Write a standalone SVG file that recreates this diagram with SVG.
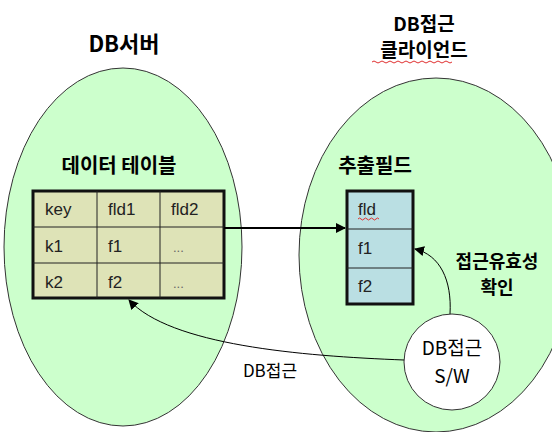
<svg xmlns="http://www.w3.org/2000/svg" width="552" height="432" viewBox="0 0 552 432">
<defs>
<style>
.t{font-family:"Noto Sans CJK KR","Liberation Sans",sans-serif;fill:#000}
.b{font-weight:bold}
.cell{font-family:"Liberation Sans","Noto Sans CJK KR",sans-serif;font-size:17px;fill:#222}
.dots{font-family:"Liberation Sans",sans-serif;font-size:13px;fill:#666}
.ell{fill:#ccffcc;stroke:#333;stroke-width:1}
.grid{stroke:#222;stroke-width:1;fill:none}
.wave{fill:none;stroke:#e03030;stroke-width:1}
</style>
<marker id="ah" viewBox="0 0 10 10" refX="9" refY="5" markerWidth="10" markerHeight="10" markerUnits="userSpaceOnUse" orient="auto">
<path d="M0,0 L10,5 L0,10 z" fill="#000"/>
</marker>
</defs>
<rect width="552" height="432" fill="#fff"/>
<g id="server">
<ellipse class="ell" cx="123" cy="247" rx="119" ry="179"/>
<text class="t b" x="124" y="52" font-size="22" text-anchor="middle">DB서버</text>
<text class="t b" x="119" y="173" font-size="20" text-anchor="middle">데이터 테이블</text>
</g>
<g id="client">
<ellipse class="ell" cx="436" cy="255" rx="137" ry="177"/>
<text class="t b" x="424" y="31" font-size="19" text-anchor="middle">DB접근</text>
<text class="t b" x="424" y="57" font-size="19" text-anchor="middle">클라이언드</text>
<path class="wave" d="M372,62 q2,-2 4,0 t4,0 t4,0 t4,0 t4,0 t4,0 t4,0 t4,0 t4,0 t4,0 t4,0 t4,0 t4,0 t4,0 t4,0 t4,0 t4,0 t4,0 t4,0 t4,0"/>
<text class="t b" x="375" y="173" font-size="20" text-anchor="middle">추출필드</text>
<text class="t b" x="497" y="268" font-size="18" text-anchor="middle">접근유효성</text>
<text class="t b" x="497" y="294" font-size="18" text-anchor="middle">확인</text>
</g>
<g id="table">
<rect x="33" y="191" width="191" height="107" fill="#dee3b7" stroke="#111" stroke-width="3"/>
<path class="grid" d="M97,191 V298 M160,191 V298 M33,227 H224 M33,263 H224"/>
<text class="cell" x="45" y="215">key</text>
<text class="cell" x="108" y="215">fld1</text>
<text class="cell" x="171" y="215">fld2</text>
<text class="cell" x="45" y="252">k1</text>
<text class="cell" x="108" y="252">f1</text>
<text class="dots" x="173" y="252">...</text>
<text class="cell" x="45" y="288">k2</text>
<text class="cell" x="108" y="288">f2</text>
<text class="dots" x="173" y="288">...</text>
</g>
<g id="fields">
<rect x="347" y="191" width="66" height="113" fill="#badfe3" stroke="#111" stroke-width="3"/>
<path class="grid" d="M347,229 H413 M347,268 H413"/>
<text class="cell" x="358" y="215">fld</text>
<path class="wave" d="M358,219 q1.5,-2 3,0 t3,0 t3,0 t3,0 t3,0 t3,0 t3,0"/>
<text class="cell" x="358" y="254">f1</text>
<text class="cell" x="358" y="292">f2</text>
</g>
<g id="sw">
<circle cx="452" cy="362" r="48" fill="#fff" stroke="#333" stroke-width="1"/>
<text class="t" x="452" y="355" font-size="19" text-anchor="middle">DB접근</text>
<text class="t" x="452" y="383" font-size="19" text-anchor="middle">S/W</text>
</g>
<g id="connectors" fill="none" stroke="#000">
<path d="M224,228 H345" stroke-width="2" marker-end="url(#ah)"/>
<path d="M450,314 C452,280 440,255 415,249" stroke-width="1" marker-end="url(#ah)"/>
<path d="M404,360 C300,356 170,345 129,300" stroke-width="1" marker-end="url(#ah)"/>
<text class="t" x="270" y="377" font-size="17" text-anchor="middle" stroke="none" fill="#000">DB접근</text>
</g>
</svg>
